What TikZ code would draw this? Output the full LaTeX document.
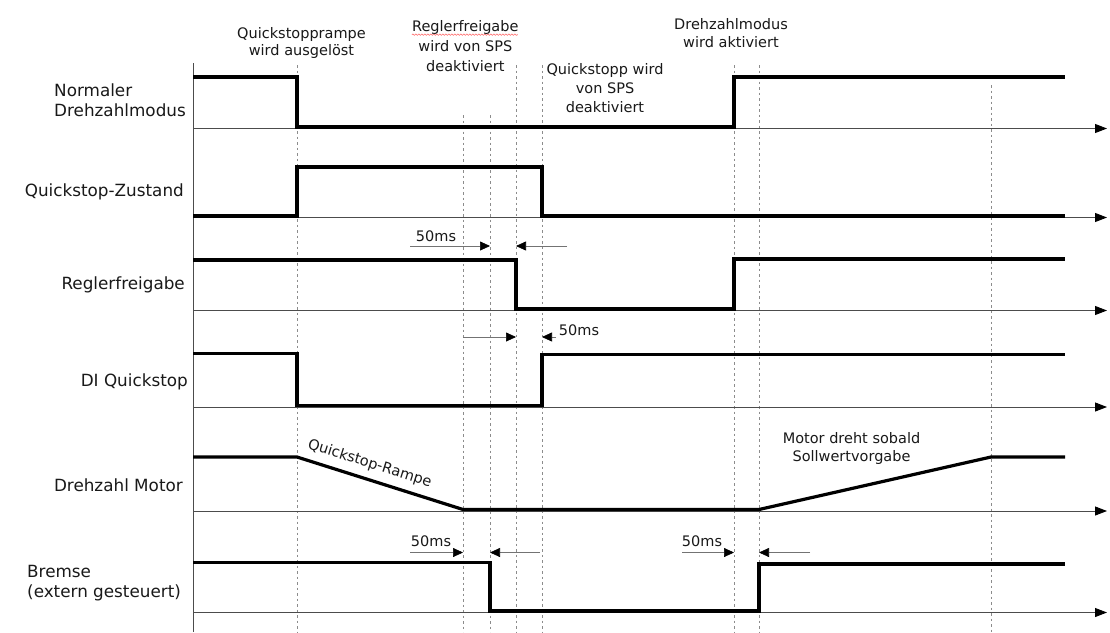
\documentclass[tikz,border=0pt]{standalone}
\usepackage{fontspec}
\setmainfont{DejaVu Sans}
\usetikzlibrary{arrows.meta,decorations.pathmorphing}

\tikzset{
  sig/.style={line width=3.2pt, line join=miter, black},
  timeaxis/.style={line width=0.9pt, black!70, -{Triangle[length=12pt,width=9pt,color=black]}},
  marker/.style={line width=0.6pt, black!45, dash pattern=on 2.5pt off 3pt},
  gap/.style={line width=0.7pt, black!55, -{Triangle[length=10pt,width=9pt,color=black]}},
  sidelbl/.style={inner sep=0pt, font=\fontsize{16.8}{20}\selectfont, text=black!90},
  toplbl/.style={inner sep=0pt, font=\fontsize{14.5}{17}\selectfont, text=black!90},
}

\begin{document}
\begin{tikzpicture}[x=1pt,y=-1pt]
  \useasboundingbox[fill=white] (0,0) rectangle (1110,632);

  % time markers
  \draw[marker] (297,65) -- (297,632);
  \draw[marker] (463,115) -- (463,632);
  \draw[marker] (490,115) -- (490,632);
  \draw[marker] (516,65) -- (516,632);
  \draw[marker] (542,65) -- (542,632);
  \draw[marker] (734,65) -- (734,632);
  \draw[marker] (759,65) -- (759,632);
  \draw[marker] (991,85) -- (991,632);

  % vertical axis and time axes
  \draw[line width=0.9pt, black!70] (193,63) -- (193,632);
  \draw[timeaxis] (193,128.5) -- (1107,128.5);
  \draw[timeaxis] (193,217.5) -- (1107,217.5);
  \draw[timeaxis] (193,310.5) -- (1107,310.5);
  \draw[timeaxis] (193,407) -- (1107,407);
  \draw[timeaxis] (193,511) -- (1107,511);
  \draw[timeaxis] (193,612.5) -- (1107,612.5);

  % signals
  \draw[sig] (193,77) -- (297,77) -- (297,127) -- (734,127) -- (734,77) -- (1065,77);
  \draw[sig] (193,216) -- (297,216) -- (297,167) -- (542,167) -- (542,216) -- (1065,216);
  \draw[sig] (193,260) -- (516,260) -- (516,309) -- (734,309) -- (734,259) -- (1065,259);
  \draw[sig] (193,353.5) -- (297,353.5) -- (297,405.5) -- (542,405.5) -- (542,354.5) -- (1065,354.5);
  \draw[sig] (193,457) -- (297,457) -- (463,509.5) -- (759,509.5) -- (991,457) -- (1065,457);
  \draw[sig] (193,562.5) -- (490,562.5) -- (490,611) -- (759,611) -- (759,564) -- (1065,564);

  % 50 ms intervals
  \draw[gap] (410,246) -- (490,246);
  \draw[gap] (567,246) -- (516,246);
  \draw[gap] (463,337) -- (516,337);
  \draw[gap] (556,337) -- (542,337);
  \draw[gap] (410,552.5) -- (463,552.5);
  \draw[gap] (540,552.5) -- (490,552.5);
  \draw[gap] (682,552.5) -- (734,552.5);
  \draw[gap] (810,552.5) -- (759,552.5);
  \node[toplbl, anchor=base] (ms1) at (436,241.5) {50ms};
  \node[toplbl, anchor=base] (ms2) at (579,335) {50ms};
  \node[toplbl, anchor=base] (ms3) at (431,546.5) {50ms};
  \node[toplbl, anchor=base] (ms4) at (702,546.5) {50ms};

  % signal names
  \node[sidelbl, anchor=base west] (n1a) at (54,96.5) {Normaler};
  \node[sidelbl, anchor=base west] (n1b) at (54,116.5) {Drehzahlmodus};
  \node[sidelbl, anchor=base east] (n2) at (184,196) {Quickstop-Zustand};
  \node[sidelbl, anchor=base east] (n3) at (185,289.5) {Reglerfreigabe};
  \node[sidelbl, anchor=base east] (n4) at (188,386) {DI Quickstop};
  \node[sidelbl, anchor=base east] (n5) at (183,491) {Drehzahl Motor};
  \node[sidelbl, anchor=base west] (n6a) at (27,577.5) {Bremse};
  \node[sidelbl, anchor=base west] (n6b) at (27,597.5) {(extern gesteuert)};

  % event descriptions
  \node[toplbl, anchor=base] (e1a) at (301.5,38.5) {Quickstopprampe};
  \node[toplbl, anchor=base] (e1b) at (301.5,55.5) {wird ausgelöst};
  \node[toplbl, anchor=base] (e2a) at (465.3,31.7) {Reglerfreigabe};
  \node[toplbl, anchor=base] (e2b) at (465.3,51.7) {wird von SPS};
  \node[toplbl, anchor=base] (e2c) at (465.3,71.5) {deaktiviert};
  \draw[red!55!white, line width=0.6pt, decorate,
        decoration={snake, amplitude=0.7pt, segment length=3pt}]
        (e2a.base west) ++(0,3) -- ++(106,0);
  \node[toplbl, anchor=base] (e3a) at (605,74.5) {Quickstopp wird};
  \node[toplbl, anchor=base] (e3b) at (605,93.5) {von SPS};
  \node[toplbl, anchor=base] (e3c) at (605,112) {deaktiviert};
  \node[toplbl, anchor=base] (e4a) at (731,29.5) {Drehzahlmodus};
  \node[toplbl, anchor=base] (e4b) at (731,47) {wird aktiviert};

  % ramp annotations
  \node[toplbl, anchor=base, rotate=-17.4] (r1) at (368.5,467.5) {Quickstop-Rampe};
  \node[toplbl, anchor=base] (r2a) at (851.5,443.5) {Motor dreht sobald};
  \node[toplbl, anchor=base] (r2b) at (851.5,461) {Sollwertvorgabe};
\end{tikzpicture}
\end{document}
